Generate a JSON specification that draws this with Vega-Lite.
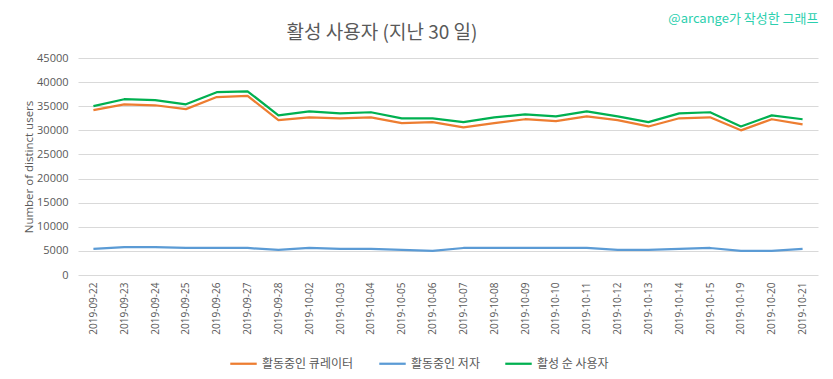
{
  "$schema": "https://vega.github.io/schema/vega-lite/v6.json",
  "autosize": {"type": "none"},
  "width": 740,
  "height": 217,
  "padding": {"left": 78, "top": 58, "right": 15, "bottom": 104},
  "background": "white",
  "title": {
    "text": "활성 사용자 (지난 30 일)",
    "font": "Noto Sans CJK KR",
    "fontSize": 19,
    "fontWeight": "normal",
    "color": "#595959",
    "anchor": "middle",
    "frame": "group",
    "dx": -66,
    "dy": 48,
    "offset": 17
  },
  "data": {
    "values": [
      {"date": "2019-09-22", "series": "활동중인 큐레이터", "value": 34200},
      {"date": "2019-09-23", "series": "활동중인 큐레이터", "value": 35400},
      {"date": "2019-09-24", "series": "활동중인 큐레이터", "value": 35200},
      {"date": "2019-09-25", "series": "활동중인 큐레이터", "value": 34400},
      {"date": "2019-09-26", "series": "활동중인 큐레이터", "value": 36900},
      {"date": "2019-09-27", "series": "활동중인 큐레이터", "value": 37150},
      {"date": "2019-09-28", "series": "활동중인 큐레이터", "value": 32100},
      {"date": "2019-10-02", "series": "활동중인 큐레이터", "value": 32700},
      {"date": "2019-10-03", "series": "활동중인 큐레이터", "value": 32500},
      {"date": "2019-10-04", "series": "활동중인 큐레이터", "value": 32700},
      {"date": "2019-10-05", "series": "활동중인 큐레이터", "value": 31500},
      {"date": "2019-10-06", "series": "활동중인 큐레이터", "value": 31700},
      {"date": "2019-10-07", "series": "활동중인 큐레이터", "value": 30600},
      {"date": "2019-10-08", "series": "활동중인 큐레이터", "value": 31500},
      {"date": "2019-10-09", "series": "활동중인 큐레이터", "value": 32300},
      {"date": "2019-10-10", "series": "활동중인 큐레이터", "value": 31900},
      {"date": "2019-10-11", "series": "활동중인 큐레이터", "value": 32900},
      {"date": "2019-10-12", "series": "활동중인 큐레이터", "value": 32100},
      {"date": "2019-10-13", "series": "활동중인 큐레이터", "value": 30800},
      {"date": "2019-10-14", "series": "활동중인 큐레이터", "value": 32500},
      {"date": "2019-10-15", "series": "활동중인 큐레이터", "value": 32700},
      {"date": "2019-10-19", "series": "활동중인 큐레이터", "value": 30000},
      {"date": "2019-10-20", "series": "활동중인 큐레이터", "value": 32300},
      {"date": "2019-10-21", "series": "활동중인 큐레이터", "value": 31250},
      {"date": "2019-09-22", "series": "활동중인 저자", "value": 5400},
      {"date": "2019-09-23", "series": "활동중인 저자", "value": 5800},
      {"date": "2019-09-24", "series": "활동중인 저자", "value": 5800},
      {"date": "2019-09-25", "series": "활동중인 저자", "value": 5600},
      {"date": "2019-09-26", "series": "활동중인 저자", "value": 5600},
      {"date": "2019-09-27", "series": "활동중인 저자", "value": 5600},
      {"date": "2019-09-28", "series": "활동중인 저자", "value": 5200},
      {"date": "2019-10-02", "series": "활동중인 저자", "value": 5600},
      {"date": "2019-10-03", "series": "활동중인 저자", "value": 5400},
      {"date": "2019-10-04", "series": "활동중인 저자", "value": 5400},
      {"date": "2019-10-05", "series": "활동중인 저자", "value": 5200},
      {"date": "2019-10-06", "series": "활동중인 저자", "value": 5000},
      {"date": "2019-10-07", "series": "활동중인 저자", "value": 5600},
      {"date": "2019-10-08", "series": "활동중인 저자", "value": 5600},
      {"date": "2019-10-09", "series": "활동중인 저자", "value": 5600},
      {"date": "2019-10-10", "series": "활동중인 저자", "value": 5600},
      {"date": "2019-10-11", "series": "활동중인 저자", "value": 5600},
      {"date": "2019-10-12", "series": "활동중인 저자", "value": 5200},
      {"date": "2019-10-13", "series": "활동중인 저자", "value": 5200},
      {"date": "2019-10-14", "series": "활동중인 저자", "value": 5400},
      {"date": "2019-10-15", "series": "활동중인 저자", "value": 5600},
      {"date": "2019-10-19", "series": "활동중인 저자", "value": 5000},
      {"date": "2019-10-20", "series": "활동중인 저자", "value": 5000},
      {"date": "2019-10-21", "series": "활동중인 저자", "value": 5400},
      {"date": "2019-09-22", "series": "활성 순 사용자", "value": 35000},
      {"date": "2019-09-23", "series": "활성 순 사용자", "value": 36450},
      {"date": "2019-09-24", "series": "활성 순 사용자", "value": 36250},
      {"date": "2019-09-25", "series": "활성 순 사용자", "value": 35400},
      {"date": "2019-09-26", "series": "활성 순 사용자", "value": 37900},
      {"date": "2019-09-27", "series": "활성 순 사용자", "value": 38100},
      {"date": "2019-09-28", "series": "활성 순 사용자", "value": 33100},
      {"date": "2019-10-02", "series": "활성 순 사용자", "value": 33950},
      {"date": "2019-10-03", "series": "활성 순 사용자", "value": 33500},
      {"date": "2019-10-04", "series": "활성 순 사용자", "value": 33750},
      {"date": "2019-10-05", "series": "활성 순 사용자", "value": 32500},
      {"date": "2019-10-06", "series": "활성 순 사용자", "value": 32500},
      {"date": "2019-10-07", "series": "활성 순 사용자", "value": 31700},
      {"date": "2019-10-08", "series": "활성 순 사용자", "value": 32700},
      {"date": "2019-10-09", "series": "활성 순 사용자", "value": 33300},
      {"date": "2019-10-10", "series": "활성 순 사용자", "value": 32900},
      {"date": "2019-10-11", "series": "활성 순 사용자", "value": 33950},
      {"date": "2019-10-12", "series": "활성 순 사용자", "value": 32900},
      {"date": "2019-10-13", "series": "활성 순 사용자", "value": 31700},
      {"date": "2019-10-14", "series": "활성 순 사용자", "value": 33500},
      {"date": "2019-10-15", "series": "활성 순 사용자", "value": 33750},
      {"date": "2019-10-19", "series": "활성 순 사용자", "value": 30800},
      {"date": "2019-10-20", "series": "활성 순 사용자", "value": 33100},
      {"date": "2019-10-21", "series": "활성 순 사용자", "value": 32300}
    ]
  },
  "encoding": {
    "y": {
      "field": "value",
      "type": "quantitative",
      "scale": {"domain": [0, 45000], "nice": false},
      "axis": {
        "title": "Number of distinct users",
        "titleFont": "Open Sans",
        "titleFontSize": 11.5,
        "titleFontWeight": "normal",
        "titleColor": "#595959",
        "titlePadding": 2,
        "values": [0, 5000, 10000, 15000, 20000, 25000, 30000, 35000, 40000, 45000],
        "format": "d",
        "labelFont": "Open Sans",
        "labelFontSize": 11,
        "labelColor": "#595959",
        "labelPadding": 10,
        "ticks": false,
        "domain": false,
        "grid": true,
        "gridColor": "#d9d9d9",
        "gridWidth": 1
      }
    }
  },
  "resolve": {"axis": {"x": "independent"}},
  "layer": [
    {
      "mark": {"type": "line", "strokeWidth": 2.25, "strokeJoin": "round"},
      "encoding": {
        "x": {
          "field": "date",
          "type": "ordinal",
          "sort": null,
          "scale": {"type": "point", "padding": 0.5},
          "axis": {
            "title": null,
            "labelAngle": -90,
            "labelFont": "Open Sans",
            "labelFontSize": 10,
            "labelColor": "#595959",
            "labelPadding": 7,
            "ticks": false,
            "domain": false,
            "grid": false
          }
        },
        "color": {
          "field": "series",
          "type": "nominal",
          "scale": {
            "domain": ["활동중인 큐레이터", "활동중인 저자", "활성 순 사용자"],
            "range": ["#ED7D31", "#5B9BD5", "#00B050"]
          },
          "legend": {
            "title": null,
            "orient": "none",
            "direction": "horizontal",
            "legendX": 151,
            "legendY": 291,
            "symbolType": "stroke",
            "symbolSize": 700,
            "symbolStrokeWidth": 2.25,
            "labelFont": "Noto Sans CJK KR",
            "labelFontSize": 12,
            "labelColor": "#595959",
            "labelOffset": 4,
            "columnPadding": 20
          }
        }
      }
    },
    {
      "mark": {"type": "point", "opacity": 0},
      "encoding": {
        "x": {
          "field": "date",
          "type": "ordinal",
          "sort": null,
          "axis": {
            "orient": "top",
            "title": "@arcange가 작성한 그래프",
            "titleFont": "Noto Sans CJK KR",
            "titleFontSize": 13,
            "titleFontWeight": "normal",
            "titleColor": "#2BCFAE",
            "titleAnchor": "end",
            "titleAlign": "right",
            "titleBaseline": "middle",
            "titleY": -40,
            "titleX": 740,
            "labels": false,
            "ticks": false,
            "domain": false,
            "grid": false
          }
        }
      }
    }
  ],
  "config": {
    "view": {"stroke": null}
  }
}
